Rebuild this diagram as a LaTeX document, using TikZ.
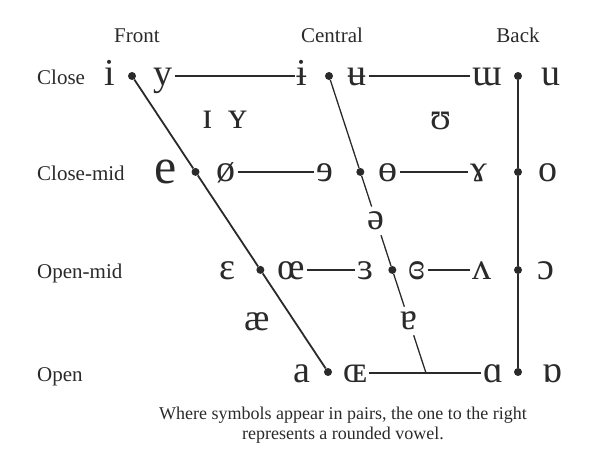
\documentclass[tikz,border=0pt]{standalone}
\usepackage{fontspec}
\setmainfont{Liberation Serif}
\usetikzlibrary{calc}
\definecolor{ink}{HTML}{2a2a2a}
\tikzset{
  vowel/.style={font=\fontsize{38}{40}\selectfont,text=ink,inner sep=2pt,
    text height=18pt,text depth=0pt},
  online/.style={font=\fontsize{38}{40}\selectfont,text=ink,inner sep=5pt},
  rowlab/.style={font=\fontsize{21}{24}\selectfont,text=ink,anchor=base west,inner sep=0pt},
  collab/.style={font=\fontsize{21}{24}\selectfont,text=ink,anchor=base,inner sep=0pt},
  vdot/.style={circle,fill=ink,inner sep=0pt,minimum size=8pt},
  edge/.style={draw=ink,line width=1.3pt},
  fedge/.style={draw=ink,line width=1.8pt},
}

\begin{document}
\begin{tikzpicture}[x=1pt,y=-1pt]
  \useasboundingbox (0,0) rectangle (595,461);
  % column and row heads
  \node[collab] (front) at (137,42) {Front};
  \node[collab] (central) at (332,42) {Central};
  \node[collab] (back) at (518,42) {Back};
  \foreach \n/\y/\t in {close/76/Close,cmid/172/Close-mid,omid/270/Open-mid,open/373/Open}
    \node[rowlab] (\n) at (37,\y+8) {\t};
  % dots on the three lines
  \coordinate (cbot) at (426,373);
  \node[vdot] (fc) at (132,76){};
  \node[vdot] (fo) at (328,372){};
  \node[vdot] (fcm) at ($(fc)!0.324!(fo)$){};
  \node[vdot] (fom) at ($(fc)!0.655!(fo)$){};
  \node[vdot] (cc) at (329,76){};
  \node[vdot] (ccm) at ($(cc)!0.323!(cbot)$){};
  \node[vdot] (com) at ($(cc)!0.653!(cbot)$){};
  \foreach \n/\y in {bc/76,bcm/172,bom/270,bo/372}
    \node[vdot] (\n) at (518,\y){};
  % vowel symbols
  \foreach \n/\x/\y/\s in {i/110/76/i, y/163/76/y, ibar/302/76/ɨ, ubar/357/76/ʉ,
      turnm/487/76/ɯ, u/551/76/u,
      oslash/226/172/ø, reve/325/172/ɘ, obar/388/172/ɵ, gam/479/172/ɤ, o/548/172/o,
      eps/227/270/ɛ, oe/291/270/œ, reveps/365/270/ɜ, creveps/417/270/ɞ,
      wedge/482/270/ʌ, openo/546/270/ɔ,
      a/302/373/a, OE/355/373/ɶ, alpha/493/373/ɑ, talpha/552/373/ɒ,
      smi/208/119/ɪ, smy/238/119/ʏ, ups/441/120/ʊ, ash/257/321/æ}
    \node[vowel] (v-\n) at (\x,\y) {\s};
  \node[vowel,font=\fontsize{50}{52}\selectfont,text height=22pt] (v-e) at (166,172) {e};
  \node[online] (v-schwa) at ($(cc)!0.488!(cbot)$) {ə};
  \node[online] (v-turna) at ($(cc)!0.825!(cbot)$) {ɐ};
  % horizontal lines
  \foreach \a/\b in {y/ibar,ubar/turnm,oslash/reve,obar/gam,oe/reveps,creveps/wedge,OE/alpha}
    \draw[edge] (v-\a) -- (v-\b);
  % front, central and back lines
  \draw[fedge] (fc) -- (fcm) -- (fom) -- (fo);
  \draw[edge] (cc) -- (ccm) -- (v-schwa);
  \draw[edge] (v-schwa) -- (com) -- (v-turna);
  \draw[edge] (v-turna) -- (cbot);
  \draw[edge] (bc) -- (bcm) -- (bom) -- (bo);
  \node[font=\fontsize{18}{20}\selectfont,text=ink,align=center,anchor=north,inner sep=0pt] (note)
    at (343,407) {Where symbols appear in pairs, the one to the right\\represents a rounded vowel.};
\end{tikzpicture}
\end{document}
